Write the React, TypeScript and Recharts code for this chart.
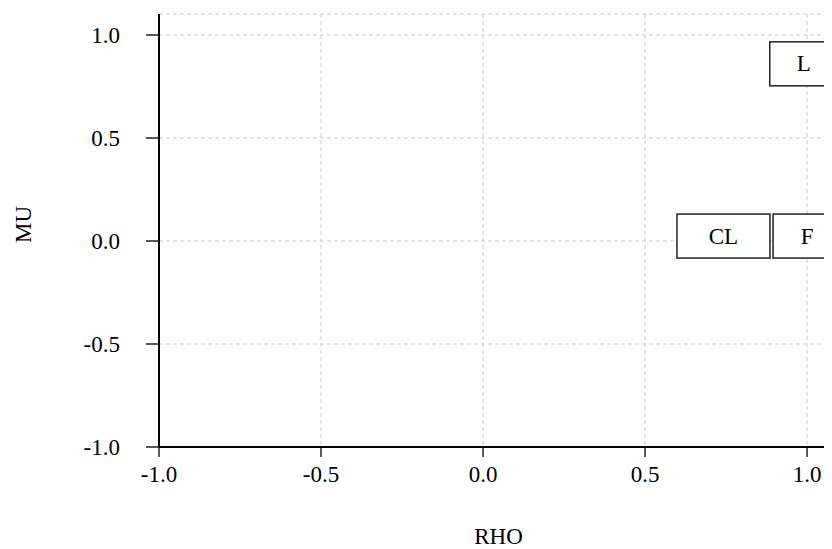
import { ScatterChart, Scatter, XAxis, YAxis, CartesianGrid, Label } from 'recharts';

const labels = ['L', 'CL', 'F'];
const rhoValues = [0.99, 0.742, 1.0];
const muValues = [0.86, 0.024, 0.024];

const xTicks = [-1, -0.5, 0, 0.5, 1];
const yTicks = [-1, -0.5, 0, 0.5, 1];

const FONT = '"Liberation Serif", "DejaVu Serif", serif';
const X_DOMAIN: [number, number] = [-1, 1.077];
const Y_DOMAIN: [number, number] = [-1, 1.102];

const points = labels.map((name, i) => ({ name, rho: rhoValues[i], mu: muValues[i] }));

// box around each label, centred on the point
const BoxShape = (props: any) => {
  const { cx, cy, payload } = props;
  const w = 43 + 25 * payload.name.length;
  const h = 44;
  return (
    <g>
      <rect x={cx - w / 2} y={cy - h / 2} width={w} height={h} fill="#fff" stroke="#000" strokeWidth={1.3} />
      <text x={cx} y={cy} textAnchor="middle" dominantBaseline="central" fontFamily={FONT} fontSize={23} fill="#000">
        {payload.name}
      </text>
    </g>
  );
};

const tickStyle = { fontFamily: FONT, fontSize: 23, fill: '#000' };

export default function App() {
  return (
    <ScatterChart width={824} height={541} margin={{ top: 6, right: 0, bottom: 0, left: 0 }}>
      <CartesianGrid stroke="#cccccc" strokeDasharray="4 3" />
      <XAxis
        type="number"
        dataKey="rho"
        domain={X_DOMAIN}
        ticks={xTicks}
        allowDataOverflow
        tickFormatter={(v: number) => v.toFixed(1)}
        tick={tickStyle}
        tickSize={10}
        tickMargin={9}
        height={102}
        axisLine={{ stroke: '#000', strokeWidth: 2 }}
        tickLine={{ stroke: '#000', strokeWidth: 1.3 }}
      >
        <Label
          content={(p: any) => {
            const vb = p.viewBox;
            return (
              <text x={vb.x + vb.width / 2 + 3} y={vb.y + 89} textAnchor="middle" dominantBaseline="central" fontFamily={FONT} fontSize={23} fill="#000">
                RHO
              </text>
            );
          }}
        />
      </XAxis>
      <YAxis
        type="number"
        dataKey="mu"
        domain={Y_DOMAIN}
        ticks={yTicks}
        allowDataOverflow
        tickFormatter={(v: number) => v.toFixed(1)}
        tick={tickStyle}
        tickSize={13}
        tickMargin={26}
        width={151}
        axisLine={{ stroke: '#000', strokeWidth: 2 }}
        tickLine={{ stroke: '#000', strokeWidth: 1.3 }}
      >
        <Label
          content={(p: any) => {
            const vb = p.viewBox;
            const cx = 15;
            const cy = vb.y + vb.height / 2 - 6;
            return (
              <text x={cx} y={cy} textAnchor="middle" dominantBaseline="central" transform={`rotate(-90 ${cx} ${cy})`} fontFamily={FONT} fontSize={23} fill="#000">
                MU
              </text>
            );
          }}
        />
      </YAxis>
      <Scatter data={points} shape={BoxShape} isAnimationActive={false} />
    </ScatterChart>
  );
}
